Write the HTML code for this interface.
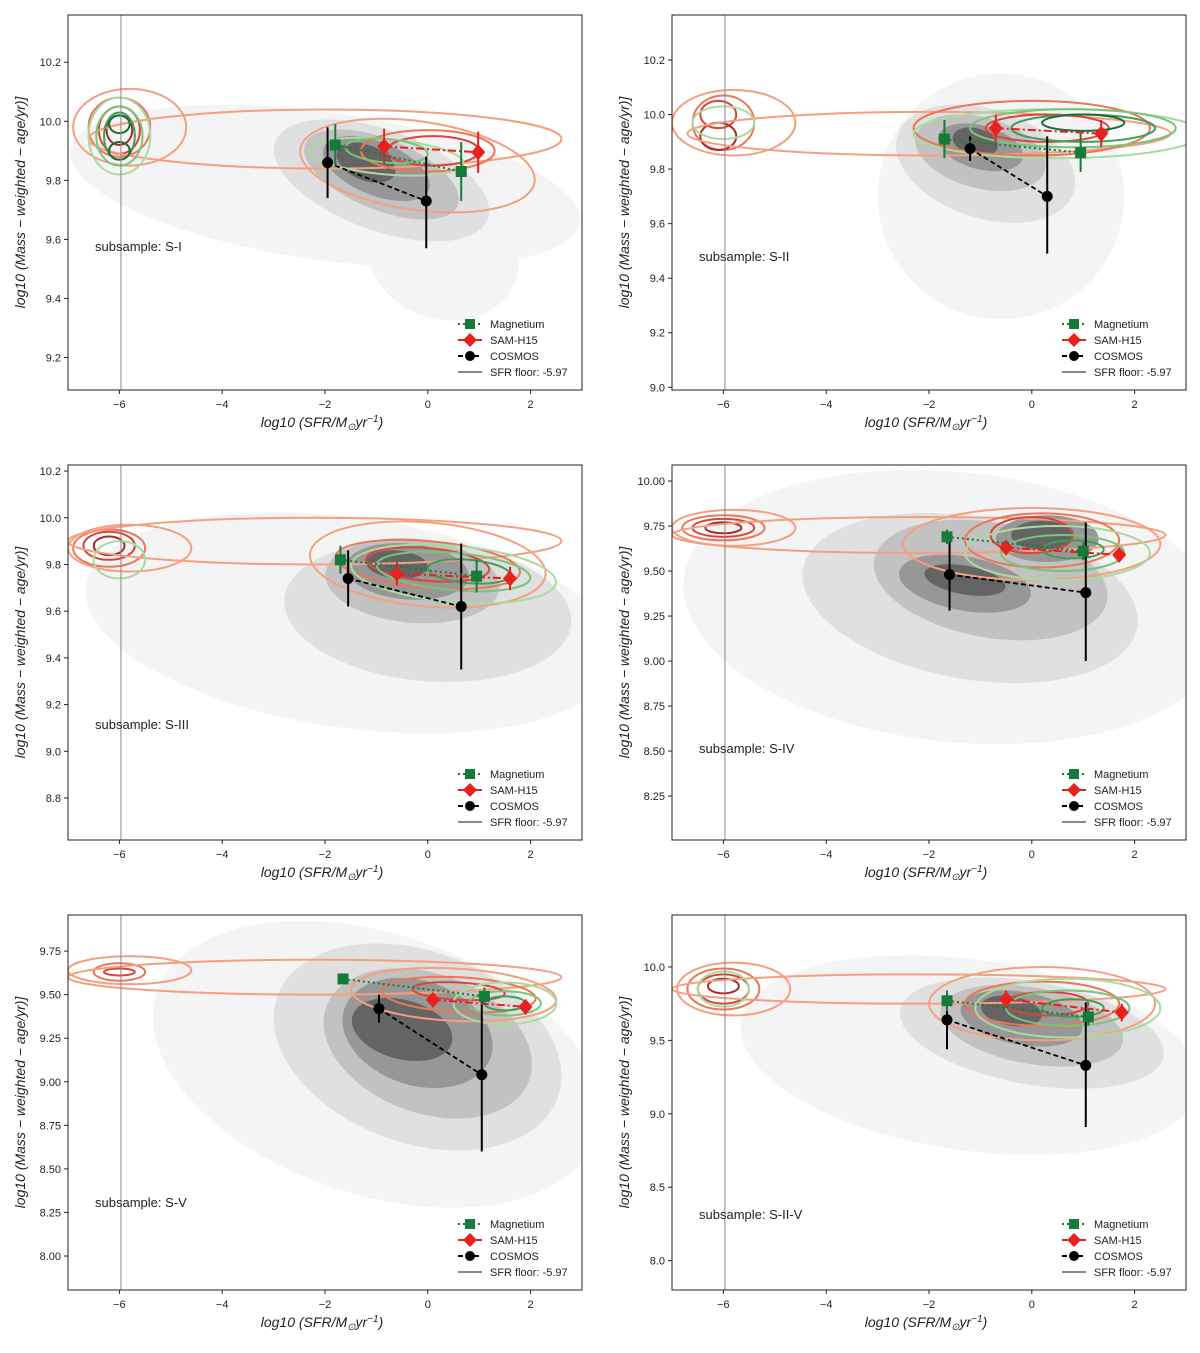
<!DOCTYPE html>
<html><head><meta charset="utf-8"><style>
body{margin:0;background:#fff;}
svg text{font-family:"Liberation Sans",sans-serif;fill:#222;}
</style></head><body>
<svg id="fig" width="1200" height="1348" xmlns="http://www.w3.org/2000/svg"></svg>
<script>
// ---- data ----
const panelNames = ["S-I","S-II","S-III","S-IV","S-V","S-II-V"];
const magX = [[-1.8,0.65],[-1.7,0.95],[-1.7,0.95],[-1.65,1.0],[-1.65,1.1],[-1.65,1.1]];
const magY = [[9.92,9.83],[9.91,9.86],[9.82,9.75],[9.69,9.61],[9.59,9.49],[9.77,9.66]];
const magErr = [[0.07,0.10],[0.07,0.07],[0.06,0.07],[0.04,0.05],[0.03,0.05],[0.07,0.06]];
const samX = [[-0.85,0.98],[-0.7,1.35],[-0.6,1.6],[-0.5,1.7],[0.1,1.9],[-0.5,1.75]];
const samY = [[9.915,9.895],[9.95,9.93],[9.76,9.74],[9.63,9.59],[9.47,9.43],[9.78,9.69]];
const samErr = [[0.06,0.07],[0.05,0.05],[0.05,0.05],[0.03,0.03],[0.03,0.03],[0.06,0.06]];
const cosX = [[-1.95,-0.03],[-1.2,0.3],[-1.55,0.65],[-1.6,1.05],[-0.95,1.05],[-1.65,1.05]];
const cosY = [[9.86,9.73],[9.875,9.70],[9.74,9.62],[9.48,9.38],[9.42,9.04],[9.64,9.33]];
const cosLo = [[9.74,9.57],[9.83,9.49],[9.62,9.35],[9.28,9.0],[9.34,8.6],[9.44,8.91]];
const cosHi = [[9.98,9.88],[9.92,9.92],[9.86,9.89],[9.67,9.77],[9.5,9.5],[9.84,9.76]];
const yTicks = [
 [9.2,9.4,9.6,9.8,10.0,10.2],
 [9.0,9.2,9.4,9.6,9.8,10.0,10.2],
 [8.8,9.0,9.2,9.4,9.6,9.8,10.0,10.2],
 [8.25,8.5,8.75,9.0,9.25,9.5,9.75,10.0],
 [8.0,8.25,8.5,8.75,9.0,9.25,9.5,9.75],
 [8.0,8.5,9.0,9.5,10.0]];
const yDec = [1,1,1,2,2,1];
const xTicks = [-6,-4,-2,0,2];
const yMin = [9.09,8.99,8.62,8.006,7.805,7.80];
const yMax = [10.36,10.365,10.226,10.089,9.957,10.354];
const sfrFloor = -5.97;
// contour ellipses: [cx, cy, rx, ry, angle, level]
const grayC = [
 [[-2.0,9.78,5.0,0.25,8,0],[0.3,9.55,1.5,0.22,20,0],[-0.9,9.8,2.2,0.17,20,1],[-0.9,9.82,1.6,0.12,22,2],[-1.0,9.84,1.1,0.09,22,3],[-1.2,9.86,0.6,0.06,22,4]],
 [[-0.6,9.7,2.4,0.45,25,0],[-0.9,9.82,1.8,0.2,18,1],[-1,9.86,1.3,0.13,15,2],[-1,9.88,0.85,0.08,15,3],[-1.1,9.9,0.45,0.05,15,4]],
 [[-1.5,9.55,5.2,0.45,8,0],[0,9.6,2.8,0.3,5,1],[-0.3,9.73,1.7,0.18,5,2],[-0.4,9.77,1.2,0.12,5,3],[-0.6,9.8,0.6,0.06,5,4]],
 [[-1.5,9.3,5.3,0.75,6,0],[-1.2,9.35,3.3,0.45,10,1],[-0.8,9.45,2.3,0.32,10,2],[-1.3,9.43,1.3,0.15,10,3],[0.3,9.68,1.0,0.13,0,3],[-1.3,9.45,0.8,0.08,10,4],[0.2,9.7,0.6,0.08,0,4]],
 [[-1,9.1,4.5,0.75,18,0],[-0.2,9.2,2.9,0.55,20,1],[0,9.22,2.1,0.4,20,2],[-0.2,9.28,1.5,0.3,18,3],[-0.5,9.3,1.0,0.17,15,4]],
 [[-1.2,9.4,4.5,0.65,8,0],[0,9.55,2.6,0.35,10,1],[0,9.6,1.8,0.26,10,2],[-0.2,9.65,1.2,0.18,10,3],[-0.4,9.7,0.6,0.1,10,4]]];
const redC = [
 [[-5.8,9.98,1.1,0.13,0,0],[-6,9.98,0.6,0.1,0,1],[-6,9.97,0.4,0.08,0,2],[-6,9.97,0.25,0.05,0,3],[-2,9.94,4.6,0.1,0,0],[-0.2,9.85,2.3,0.15,8,0],[0,9.9,1.3,0.07,0,1],[0.1,9.9,0.9,0.05,0,2]],
 [[-5.8,9.97,1.2,0.12,0,0],[-6,9.97,0.6,0.1,0,1],[-6.1,10.0,0.35,0.05,0,2],[-6.1,9.92,0.35,0.05,0,3],[-2,9.93,4.7,0.08,0,0],[0,9.95,2.3,0.1,0,1],[0.3,9.95,1.2,0.05,0,2]],
 [[-5.8,9.87,1.2,0.1,0,0],[-6.2,9.87,0.7,0.08,0,1],[-6.2,9.88,0.5,0.06,0,2],[-6.2,9.88,0.3,0.04,0,3],[-2.2,9.9,4.8,0.1,0,0],[0,9.8,2.3,0.18,5,0],[0,9.8,1.8,0.1,5,1],[0,9.8,1.2,0.07,5,2]],
 [[-5.8,9.74,1.2,0.1,0,0],[-6,9.74,0.8,0.07,0,1],[-6,9.74,0.6,0.05,0,2],[-6,9.74,0.35,0.03,0,3],[-2.2,9.7,4.8,0.1,0,0],[0,9.65,2.5,0.2,0,0],[0.2,9.67,1.5,0.15,0,1],[0,9.7,0.8,0.1,0,2]],
 [[-5.8,9.64,1.2,0.08,0,0],[-6,9.63,0.5,0.05,0,1],[-6,9.63,0.3,0.02,0,2],[-2.2,9.6,4.8,0.1,0,0],[0.5,9.5,2.0,0.15,3,0],[0.6,9.5,1.5,0.1,3,1],[0.6,9.52,0.9,0.05,3,2]],
 [[-5.8,9.85,1.1,0.18,0,0],[-6,9.85,0.7,0.14,0,1],[-6,9.85,0.5,0.1,0,2],[-6,9.87,0.3,0.05,0,3],[-2.2,9.85,4.8,0.1,0,0],[0.2,9.75,2.2,0.25,0,0],[0.2,9.75,1.5,0.15,0,1],[0.3,9.75,0.8,0.08,0,2]]];
const greenC = [
 [[-6,9.95,0.6,0.13,0,0],[-6,9.95,0.45,0.1,0,1],[-6,9.95,0.3,0.08,0,2],[-6,9.99,0.2,0.03,0,3],[-6,9.9,0.2,0.03,0,3],[-0.8,9.88,1.5,0.06,5,0],[-0.8,9.9,0.8,0.04,5,1]],
 [[-6,9.97,0.6,0.06,0,0],[0.5,9.93,2.8,0.09,0,0],[0.8,9.95,2,0.07,0,1],[1,9.95,1.4,0.05,0,2],[1,9.97,0.8,0.03,0,3]],
 [[-6,9.82,0.5,0.08,0,0],[0.5,9.76,2.0,0.12,5,0],[0.5,9.77,1.5,0.08,5,1],[0.8,9.77,0.8,0.05,5,2]],
 [[0.5,9.6,1.8,0.15,0,0],[0.6,9.6,1.2,0.1,0,1],[0.8,9.62,0.6,0.05,0,2]],
 [[1.5,9.45,1.0,0.12,0,0],[1.5,9.45,0.7,0.07,0,1],[1.5,9.45,0.4,0.04,0,2]],
 [[-6,9.85,0.5,0.12,0,0],[0.7,9.72,1.8,0.2,0,0],[0.7,9.72,1.2,0.12,0,1],[0.8,9.72,0.6,0.06,0,2]]];
const labelOffset = [236,246,264,288,292,304];

// ---- drawing ----
const NS="http://www.w3.org/2000/svg";
const svg=document.getElementById('fig');
function mk(tag,attrs,parent){const e=document.createElementNS(NS,tag);for(const k in attrs)e.setAttribute(k,attrs[k]);(parent||svg).appendChild(e);return e;}
const grayFill=["#f4f4f4","#e0e0e0","#c2c2c2","#979797","#646464"];
const redCol=["#f4a080","#ec7658","#d9453a","#a52a2a"];
const greenCol=["#a8dba0","#78c47a","#3f9e55","#1e6b35"];
const X0=-7,X1=3,W=514,H=375;
for(let p=0;p<6;p++){
  const left=p%2?672:68, top=15+Math.floor(p/2)*450;
  const g=mk('g',{});
  
  
  const sx=v=>left+(v-X0)/(X1-X0)*W;
  const sy=v=>top+H-(v-yMin[p])/(yMax[p]-yMin[p])*H;
  const kx=W/(X1-X0), ky=H/(yMax[p]-yMin[p]);
  const clipId='c'+p;
  const cp=mk('clipPath',{id:clipId},g); mk('rect',{x:left,y:top,width:W,height:H},cp);
  const cg=mk('g',{'clip-path':'url(#'+clipId+')'},g);
  grayC[p].forEach(e=>{const el=mk('ellipse',{cx:sx(e[0]),cy:sy(e[1]),rx:e[2]*kx,ry:e[3]*ky,fill:grayFill[e[5]],transform:`rotate(${e[4]} ${sx(e[0])} ${sy(e[1])})`},cg);
    
    });
  [[redC,redCol,'sam-contour'],[greenC,greenCol,'magnetium-contour']].forEach(([arr,col,nm])=>{
    arr[p].forEach(e=>{const el=mk('ellipse',{cx:sx(e[0]),cy:sy(e[1]),rx:e[2]*kx,ry:e[3]*ky,fill:'none',stroke:col[e[5]],'stroke-width':2,transform:`rotate(${e[4]} ${sx(e[0])} ${sy(e[1])})`},cg);
      
      });
  });
  const fl=mk('line',{x1:sx(sfrFloor),x2:sx(sfrFloor),y1:top,y2:top+H,stroke:'#888','stroke-width':1},cg);
  
  
  // COSMOS
  mk('polyline',{points:cosX[p].map((x,i)=>sx(x)+','+sy(cosY[p][i])).join(' '),fill:'none',stroke:'#000','stroke-width':1.8,'stroke-dasharray':'5,3'},cg);
  cosX[p].forEach((x,i)=>{mk('line',{x1:sx(x),x2:sx(x),y1:sy(cosLo[p][i]),y2:sy(cosHi[p][i]),stroke:'#000','stroke-width':2},cg);
    const c=mk('circle',{cx:sx(x),cy:sy(cosY[p][i]),r:5.5,fill:'#000'},cg);
    
    });
  // SAM
  mk('polyline',{points:samX[p].map((x,i)=>sx(x)+','+sy(samY[p][i])).join(' '),fill:'none',stroke:'#e8201e','stroke-width':2,'stroke-dasharray':'8,3,2,3'},cg);
  samX[p].forEach((x,i)=>{const y=samY[p][i];mk('line',{x1:sx(x),x2:sx(x),y1:sy(y-samErr[p][i]),y2:sy(y+samErr[p][i]),stroke:'#e8201e','stroke-width':2},cg);
    const X=sx(x),Y=sy(y);const d=mk('polygon',{points:`${X},${Y-8} ${X+7},${Y} ${X},${Y+8} ${X-7},${Y}`,fill:'#e8201e'},cg);
    
    });
  // Magnetium
  mk('polyline',{points:magX[p].map((x,i)=>sx(x)+','+sy(magY[p][i])).join(' '),fill:'none',stroke:'#157a3a','stroke-width':2,'stroke-dasharray':'2,3'},cg);
  magX[p].forEach((x,i)=>{const y=magY[p][i];mk('line',{x1:sx(x),x2:sx(x),y1:sy(y-magErr[p][i]),y2:sy(y+magErr[p][i]),stroke:'#157a3a','stroke-width':2},cg);
    const r=mk('rect',{x:sx(x)-5.5,y:sy(y)-5.5,width:11,height:11,fill:'#157a3a'},cg);
    
    });
  // frame
  mk('rect',{x:left,y:top,width:W,height:H,fill:'none',stroke:'#222','stroke-width':1},g);
  xTicks.forEach(t=>{const X=sx(t);mk('line',{x1:X,x2:X,y1:top+H,y2:top+H+4,stroke:'#222'},g);
    const tx=mk('text',{x:X,y:top+H+18,'text-anchor':'middle','font-size':11},g);tx.textContent=(t<0?'−'+(-t):t);
    
    });
  yTicks[p].forEach(t=>{const Y=sy(t);mk('line',{x1:left-4,x2:left,y1:Y,y2:Y,stroke:'#222'},g);
    const tx=mk('text',{x:left-7,y:Y+4,'text-anchor':'end','font-size':11},g);tx.textContent=t.toFixed(yDec[p]);
    
    });
  const xl=mk('text',{x:left+W/2-3,y:top+H+37,'text-anchor':'middle','font-size':14,'font-style':'italic'},g);
  xl.innerHTML='log10 (SFR/M<tspan font-size="10" dy="3">⊙</tspan><tspan dy="-3">yr</tspan><tspan font-size="10" dy="-5">−1</tspan><tspan dy="5">)</tspan>';
  
  
  const yl=mk('text',{x:0,y:0,'text-anchor':'middle','font-size':14,'font-style':'italic',transform:`translate(${left-43},${top+H/2}) rotate(-90)`},g);
  yl.textContent='log10 (Mass − weighted − age/yr)]';
  
  
  const sl=mk('text',{x:left+27,y:top+labelOffset[p],'font-size':13},g);
  sl.textContent='subsample: '+panelNames[p];
  
  
  const lg=mk('g',{},g);
  
  
  const lx=left+390, ly=top+309;
  const items=[['Magnetium','#157a3a','2,3','sq'],['SAM-H15','#e8201e','8,3,2,3','di'],['COSMOS','#000','5,3','ci'],['SFR floor: -5.97','#888','','ln']];
  items.forEach((it,i)=>{const Y=ly+i*16;
    const ent=mk('g',{},lg);
    
    
    mk('line',{x1:lx,x2:lx+24,y1:Y,y2:Y,stroke:it[1],'stroke-width':2,'stroke-dasharray':it[2]},ent);
    const c=lx+12;
    if(it[3]=='sq')mk('rect',{x:c-5,y:Y-5,width:10,height:10,fill:it[1]},ent);
    if(it[3]=='di')mk('polygon',{points:`${c},${Y-7} ${c+7},${Y} ${c},${Y+7} ${c-7},${Y}`,fill:it[1]},ent);
    if(it[3]=='ci')mk('circle',{cx:c,cy:Y,r:5,fill:it[1]},ent);
    const t=mk('text',{x:lx+32,y:Y+4,'font-size':11},ent);t.textContent=it[0];
  });
}
</script>
</body></html>
